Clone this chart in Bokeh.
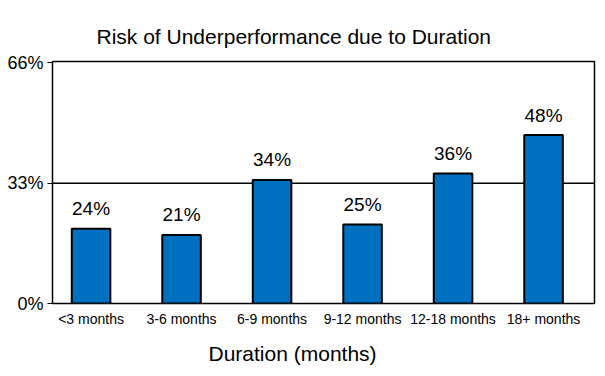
from bokeh.plotting import figure
from bokeh.models import ColumnDataSource, Range1d, FixedTicker, Span, Title
from bokeh.core.properties import value
from bokeh.embed import file_html
from bokeh.resources import INLINE

# Data
categories = ["<3 months", "3-6 months", "6-9 months", "9-12 months", "12-18 months", "18+ months"]
bar_heights = [20.5, 18.8, 33.9, 21.7, 35.7, 46.2]
label_texts = ["24%", "21%", "34%", "25%", "36%", "48%"]
y_tick_values = [0, 33, 66]
y_tick_labels = ["0%", "33%", "66%"]
reference_line = 33

FONT = "Liberation Sans"

xs = list(range(len(categories)))
source = ColumnDataSource(dict(x=xs, top=bar_heights, label=label_texts))

p = figure(width=605, height=376, output_backend="svg", toolbar_location=None,
           x_range=Range1d(-0.426, 5.563), y_range=Range1d(0, 66.4),
           min_border_left=52, min_border_right=11, min_border_top=61, min_border_bottom=73)

p.title.text = "Risk of Underperformance due to Duration"
p.title.align = "left"
p.title.offset = 44
p.title.text_font = FONT
p.title.text_font_size = "21px"
p.title.text_font_style = "normal"
p.title.text_color = "#000000"
p.title.standoff = 28

p.background_fill_color = "white"
p.border_fill_color = "white"
p.outline_line_color = "black"
p.outline_line_width = 1.5
p.xgrid.visible = False
p.ygrid.visible = False

ref = Span(location=reference_line, dimension="width", line_color="black", line_width=1.5, level="underlay")
p.add_layout(ref)

p.vbar(x="x", top="top", bottom=0, width=0.426, source=source,
       fill_color="#0070C0", line_color="black", line_width=2)

p.text(x="x", y="top", text="label", source=source, y_offset=-20,
       text_align="center", text_baseline="middle",
       text_font=value(FONT), text_font_size="19px", text_color="black")

# X axis
p.xaxis.ticker = FixedTicker(ticks=xs)
p.xaxis.major_label_overrides = {i: c for i, c in enumerate(categories)}
p.xaxis.major_label_text_font = FONT
p.xaxis.major_label_text_font_size = "14px"
p.xaxis.major_label_text_color = "black"
p.xaxis.major_label_standoff = 7
p.xaxis.major_tick_line_color = None
p.xaxis.major_tick_out = 0
p.xaxis.major_tick_in = 0
p.xaxis.minor_tick_line_color = None
p.xaxis.axis_line_color = None

x_title = Title(text="Duration (months)", align="left", offset=156,
                text_font=FONT, text_font_size="21px", text_font_style="normal",
                text_color="black", standoff=20)
p.add_layout(x_title, "below")

# Y axis
p.yaxis.ticker = FixedTicker(ticks=y_tick_values)
p.yaxis.major_label_overrides = {v: t for v, t in zip(y_tick_values, y_tick_labels)}
p.yaxis.major_label_text_font = FONT
p.yaxis.major_label_text_font_size = "18px"
p.yaxis.major_label_text_color = "black"
p.yaxis.major_label_standoff = 4
p.yaxis.major_tick_out = 5
p.yaxis.major_tick_in = 0
p.yaxis.major_tick_line_color = "black"
p.yaxis.minor_tick_line_color = None
p.yaxis.axis_line_color = None

open("out.html", "w").write(file_html(p, INLINE))
